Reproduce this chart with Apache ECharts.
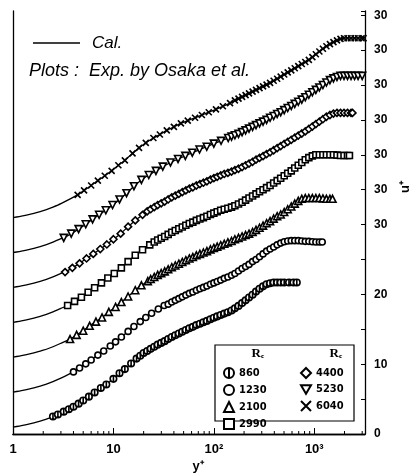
<!DOCTYPE html>
<html><head><meta charset="utf-8">
<script src="https://cdn.jsdelivr.net/npm/echarts@6/dist/echarts.min.js"></script>
<style>html,body{margin:0;padding:0;background:#fff}#c{width:417px;height:475px}</style>
</head><body><div id="c"></div>
<script>
// ---- data (u+ values unshifted; each profile is plotted shifted by its offset) ----
const reynolds = ['860', '1230', '2100', '2990', '4400', '5230', '6040'];
const offsets = [0, 5, 10, 15, 20, 25, 30];

const yPlus860 = [2.5,2.8,3.2,3.6,4,4.5,5,5.7,6.5,7.5,8.5,10,11.5,13,15,17,18.5,20,21.7,23.5,25.5,27.6,29.9,32.4,35.1,38.1,41.3,44.8,48.5,52.6,57,61.8,67,72.6,78.7,85.3,92.5,100,108,117,127,138,150,162,176,191,207,224,243,263,285,309,335,363,394,427,463,502,560,620,670];
const uPlus860  = [2.5,2.8,3.2,3.55,3.9,4.35,4.8,5.35,5.95,6.6,7.1,7.9,8.7,9.3,10.1,10.8,11.2,11.6,11.9,12.2,12.5,12.8,13.05,13.3,13.6,13.9,14.15,14.4,14.65,14.9,15.15,15.35,15.6,15.8,16.0,16.2,16.45,16.65,16.85,17.05,17.25,17.45,17.7,18.0,18.35,18.75,19.15,19.55,19.95,20.4,20.8,21.15,21.45,21.6,21.7,21.7,21.7,21.7,21.7,21.7,21.7];

const yPlus1230 = [4,4.6,5.3,6,7,8,9.3,10.5,12,14,16,18.5,21,24,28,32,35.1,38.1,41.3,44.8,48.5,52.6,57,61.8,67,72.6,78.7,85.3,92.5,100,108,117,127,138,150,162,176,191,207,224,243,263,285,309,335,363,394,427,463,502,544,590,639,693,751,814,883,957,1037,1124,1200];
const uPlus1230  = [3.9,4.45,5.05,5.6,6.3,6.9,7.6,8.2,8.9,9.7,10.4,11.1,11.7,12.3,12.9,13.4,13.6,13.9,14.15,14.4,14.65,14.9,15.15,15.35,15.6,15.8,16.0,16.2,16.45,16.65,16.85,17.05,17.3,17.5,17.75,18.0,18.35,18.7,19.0,19.3,19.7,20.0,20.4,20.8,21.2,21.5,21.8,22.1,22.35,22.55,22.65,22.7,22.7,22.7,22.65,22.6,22.6,22.55,22.5,22.5,22.5];

const yPlus2100 = [3.7,4.3,5,5.8,6.7,7.7,9,10.5,12,14,16.5,19,22,23.5,25.5,27.6,29.9,32.4,35.1,38.1,41.3,44.8,48.5,52.6,57,61.8,67,72.6,78.7,85.3,92.5,100,108,117,127,138,150,162,176,191,207,224,243,263,285,309,335,363,394,427,463,502,544,590,639,693,751,814,883,957,1037,1124,1219,1321,1432,1520];
const uPlus2100  = [3.6,4.2,4.8,5.5,6.1,6.7,7.5,8.2,8.9,9.7,10.6,11.3,11.9,12.2,12.5,12.8,13.05,13.3,13.6,13.9,14.15,14.4,14.65,14.9,15.15,15.35,15.6,15.8,16.0,16.2,16.45,16.65,16.85,17.05,17.25,17.45,17.65,17.9,18.1,18.3,18.5,18.7,18.95,19.25,19.55,19.85,20.2,20.5,20.85,21.2,21.45,21.8,22.2,22.6,23.0,23.4,23.7,23.8,23.8,23.8,23.8,23.8,23.75,23.7,23.7,23.7];

const yPlus2990 = [3.5,4.1,4.8,5.6,6.5,7.6,8.8,10.2,12,14,16.5,19.5,23,25.5,27.6,29.9,32.4,35.1,38.1,41.3,44.8,48.5,52.6,57,61.8,67,72.6,78.7,85.3,92.5,100,108,117,127,138,150,162,176,191,207,224,243,263,285,309,335,363,394,427,463,502,544,590,639,693,751,814,883,957,1037,1124,1219,1321,1432,1552,1683,1824,1977,2143,2240];
const uPlus2990  = [3.4,4.0,4.6,5.3,5.95,6.65,7.35,8.0,8.8,9.7,10.6,11.4,12.1,12.5,12.8,13.05,13.3,13.6,13.9,14.15,14.4,14.65,14.9,15.15,15.35,15.6,15.8,16.0,16.2,16.45,16.65,16.85,17.05,17.2,17.35,17.5,17.7,17.95,18.2,18.5,18.8,19.1,19.4,19.7,20.0,20.3,20.6,20.95,21.3,21.65,22.0,22.35,22.7,23.1,23.5,23.9,24.3,24.6,24.85,25.0,25.0,25.0,25.0,25.0,25.0,24.95,24.9,24.9,24.9,24.9];

const yPlus4400 = [3.3,3.9,4.6,5.4,6.3,7.4,8.6,10,11.8,14,16.5,19.5,21.7,23.5,25.5,27.6,29.9,32.4,35.1,38.1,41.3,44.8,48.5,52.6,57,61.8,67,72.6,78.7,85.3,92.5,100,108,117,127,138,150,162,176,191,207,224,243,263,285,309,335,363,394,427,463,502,544,590,639,693,751,814,883,957,1037,1124,1219,1321,1432,1552,1683,1824,1977,2143,2323,2400];
const uPlus4400  = [3.2,3.8,4.45,5.15,5.8,6.5,7.15,7.9,8.7,9.7,10.6,11.4,11.9,12.2,12.5,12.8,13.05,13.3,13.6,13.9,14.15,14.4,14.65,14.9,15.15,15.35,15.6,15.8,16.0,16.2,16.45,16.65,16.85,17.05,17.25,17.4,17.6,17.8,18.0,18.25,18.5,18.75,19.0,19.3,19.55,19.8,20.1,20.35,20.65,20.95,21.25,21.55,21.85,22.15,22.45,22.75,23.05,23.35,23.7,24.05,24.4,24.75,25.1,25.45,25.7,25.9,26.0,26.0,26.0,26.0,26.0,26.0];

const yPlus5230 = [3.2,3.8,4.5,5.3,6.2,7.2,8.4,9.8,11.5,13.5,16,19,22.5,26.5,31,37,44,52,61,72,85,100,118,139,150,162,176,191,207,224,243,263,285,309,335,363,394,427,463,502,544,590,639,693,751,814,883,957,1037,1124,1219,1321,1432,1552,1683,1824,1977,2143,2323,2519,2730,3000];
const uPlus5230  = [3.1,3.7,4.35,5.05,5.75,6.4,7.05,7.8,8.6,9.5,10.5,11.4,12.1,12.7,13.3,13.9,14.4,14.85,15.3,15.75,16.15,16.6,17.0,17.4,17.6,17.8,18.0,18.25,18.5,18.75,19.0,19.25,19.5,19.75,20.0,20.3,20.55,20.85,21.1,21.4,21.7,22.0,22.3,22.6,22.9,23.25,23.6,23.95,24.3,24.65,25.0,25.35,25.7,25.95,26.15,26.3,26.3,26.3,26.3,26.3,26.3,26.3];

const yPlus6040 = [4.4,5.1,6,7,8.2,9.6,11.2,13,15.5,18,21,25,29,34,40,47,55,65,76,89,105,123,145,162,176,191,207,224,243,263,285,309,335,363,394,427,463,502,544,590,639,693,751,814,883,957,1037,1124,1219,1321,1432,1552,1683,1824,1977,2143,2323,2519,2730,2959,3100];
const uPlus6040  = [4.25,4.9,5.6,6.3,7.0,7.7,8.5,9.2,10.2,11.0,11.7,12.4,12.9,13.5,14.0,14.5,14.9,15.3,15.7,16.1,16.5,16.95,17.4,17.8,18.05,18.3,18.55,18.8,19.05,19.3,19.55,19.8,20.05,20.3,20.6,20.9,21.2,21.5,21.8,22.1,22.4,22.7,23.0,23.3,23.6,24.0,24.4,24.8,25.2,25.55,25.85,26.15,26.4,26.6,26.7,26.7,26.7,26.7,26.7,26.7,26.7];

// calculated profile near the wall (shared sublayer, u+ = y+)
const calWallYPlus = [1, 1.25, 1.5, 1.75, 2, 2.25, 2.5, 3];
const calWallUPlus = [1, 1.25, 1.5, 1.75, 2, 2.25, 2.5, 3];

// axis ticks / labels
const xMajorTicks = [1, 10, 100, 1000];
const xTickLabels = ['1', '10', '10²', '10³'];
const xMinorMultipliers = [2, 3, 4, 5, 6, 7, 8, 9];
const yTickLabelMap = { 0: '0', 10: '10', 20: '20', 30: '30', 35: '30', 40: '30', 45: '30', 50: '30', 55: '30', 60: '30' };

const yPlusSets = [yPlus860, yPlus1230, yPlus2100, yPlus2990, yPlus4400, yPlus5230, yPlus6040];
const uPlusSets = [uPlus860, uPlus1230, uPlus2100, uPlus2990, uPlus4400, uPlus5230, uPlus6040];

const symbols = [
  'path://M5,0A5,5 0 1,1 5,10A5,5 0 1,1 5,0ZM5,0L5,10',
  'circle',
  'triangle',
  'rect',
  'diamond',
  'path://M0,0L10,0L5,8.66Z',
  'path://M0,0L10,10M10,0L0,10'
];
const symbolSizes = [6.5, 6, 7, 6, 7, 7, 6];

const X_MAX = 3200;
const Y_MAX = 60.6;

const series = [];
reynolds.forEach((re, i) => {
  const ys = yPlusSets[i], us = uPlusSets[i], off = offsets[i];
  const cal = [];
  calWallYPlus.forEach((y, k) => { if (y < ys[0]) cal.push([y, calWallUPlus[k] + off]); });
  ys.forEach((y, k) => cal.push([y, us[k] + off]));
  series.push({
    name: 'Cal.', type: 'line', data: cal, showSymbol: false, smooth: 0.2,
    lineStyle: { color: '#000', width: 1.3 }, z: 2, silent: true
  });
  series.push({
    name: re, type: 'scatter', data: ys.map((y, k) => [y, us[k] + off]),
    symbol: symbols[i], symbolSize: symbolSizes[i],
    itemStyle: { color: '#fff', borderColor: '#000', borderWidth: 1.6, opacity: 1 },
    z: 3
  });
});

// minor ticks on the log axis
const minorTicks = [];
xMajorTicks.forEach(d => xMinorMultipliers.forEach(m => { if (d * m < X_MAX) minorTicks.push([d * m, 0]); }));
series.push({
  type: 'custom', data: minorTicks, silent: true, z: 6, clip: false,
  renderItem: (params, api) => {
    const p = api.coord([api.value(0), 0]);
    return { type: 'line', shape: { x1: p[0], y1: p[1], x2: p[0], y2: p[1] - 3 }, style: { stroke: '#000', lineWidth: 1 } };
  }
});

const legendText = { color: '#000', fontSize: 11, fontWeight: 'bold', fontFamily: '"Liberation Sans Narrow","DejaVu Sans Condensed","Liberation Sans",sans-serif' };

const chart = echarts.init(document.getElementById('c'), null, { renderer: 'canvas' });
chart.setOption({
  animation: false,
  backgroundColor: '#fff',
  grid: { left: 13, right: 52, top: 11, bottom: 41, containLabel: false, outerBoundsMode: 'none' },
  xAxis: [{
    type: 'log', logBase: 10, min: 1, max: X_MAX, position: 'bottom',
    axisLine: { lineStyle: { color: '#000', width: 1.3 } },
    axisTick: { inside: true, length: 6, lineStyle: { color: '#000', width: 1 } },
    splitLine: { show: false },
    axisLabel: {
      color: '#000', fontSize: 13, fontWeight: 'bold', fontFamily: 'Arial,"Liberation Sans",sans-serif', margin: 9,
      formatter: v => { const k = xMajorTicks.indexOf(Math.round(v)); return (k >= 0 && Math.abs(v - xMajorTicks[k]) < 1e-6) ? xTickLabels[k] : ''; }
    }
  }, {
    type: 'log', logBase: 10, min: 1, max: X_MAX, position: 'top',
    axisLine: { show: true, lineStyle: { color: '#000', width: 1.3 } },
    axisTick: { show: false }, axisLabel: { show: false }, splitLine: { show: false }
  }],
  yAxis: [{
    type: 'value', min: 0, max: Y_MAX, interval: 5, position: 'right',
    axisLine: { show: true, lineStyle: { color: '#000', width: 1.3 } },
    axisTick: { inside: true, length: 4, lineStyle: { color: '#000', width: 1 } },
    splitLine: { show: false },
    axisLabel: {
      color: '#000', fontSize: 12, fontWeight: 'bold', fontFamily: 'Arial,"Liberation Sans",sans-serif', margin: 9,
      formatter: v => (yTickLabelMap[Math.round(v * 100) / 100] || '')
    }
  }, {
    type: 'value', min: 0, max: Y_MAX, interval: 5, position: 'left',
    axisLine: { show: true, lineStyle: { color: '#000', width: 1.3 } },
    axisTick: { show: false }, axisLabel: { show: false }, splitLine: { show: false }
  }],
  legend: [{
    data: reynolds.slice(0, 4), orient: 'vertical', left: 218, top: 362,
    itemWidth: 10, itemHeight: 10, itemGap: 5, selectedMode: false,
    textStyle: legendText, z: 10
  }, {
    data: reynolds.slice(4), orient: 'vertical', left: 295, top: 362,
    itemWidth: 10, itemHeight: 10, itemGap: 5, selectedMode: false,
    textStyle: legendText, z: 10
  }],
  graphic: [
    { type: 'rect', z: 8, shape: { x: 215, y: 345, width: 139, height: 76 }, style: { fill: '#fff', stroke: '#000', lineWidth: 1.2 } },
    { type: 'text', z: 9, x: 258, y: 354, style: { text: 'Rₑ', fill: '#000', fontSize: 13, fontWeight: 'bold', fontFamily: '"Liberation Serif",serif', align: 'center', verticalAlign: 'middle' } },
    { type: 'text', z: 9, x: 336, y: 354, style: { text: 'Rₑ', fill: '#000', fontSize: 13, fontWeight: 'bold', fontFamily: '"Liberation Serif",serif', align: 'center', verticalAlign: 'middle' } },
    { type: 'line', shape: { x1: 33, y1: 43, x2: 80, y2: 43 }, style: { stroke: '#000', lineWidth: 1.3 } },
    { type: 'text', x: 92, y: 43, style: { text: 'Cal.', fill: '#000', fontSize: 17, fontStyle: 'italic', fontFamily: 'Arial,"Liberation Sans",sans-serif', align: 'left', verticalAlign: 'middle' } },
    { type: 'text', x: 29, y: 71, style: { text: 'Plots :  Exp. by Osaka et al.', fill: '#000', fontSize: 18, fontStyle: 'italic', fontFamily: 'Arial,"Liberation Sans",sans-serif', align: 'left', verticalAlign: 'middle' } },
    { type: 'text', x: 405, y: 187, rotation: Math.PI / 2, style: { text: 'u⁺', fill: '#000', fontSize: 13, fontWeight: 'bold', fontFamily: 'Arial,"Liberation Sans",sans-serif', align: 'center', verticalAlign: 'middle' } },
    { type: 'text', x: 198, y: 466, style: { text: 'y⁺', fill: '#000', fontSize: 13, fontWeight: 'bold', fontFamily: 'Arial,"Liberation Sans",sans-serif', align: 'center', verticalAlign: 'middle' } }
  ],
  series: series
});
</script></body></html>
